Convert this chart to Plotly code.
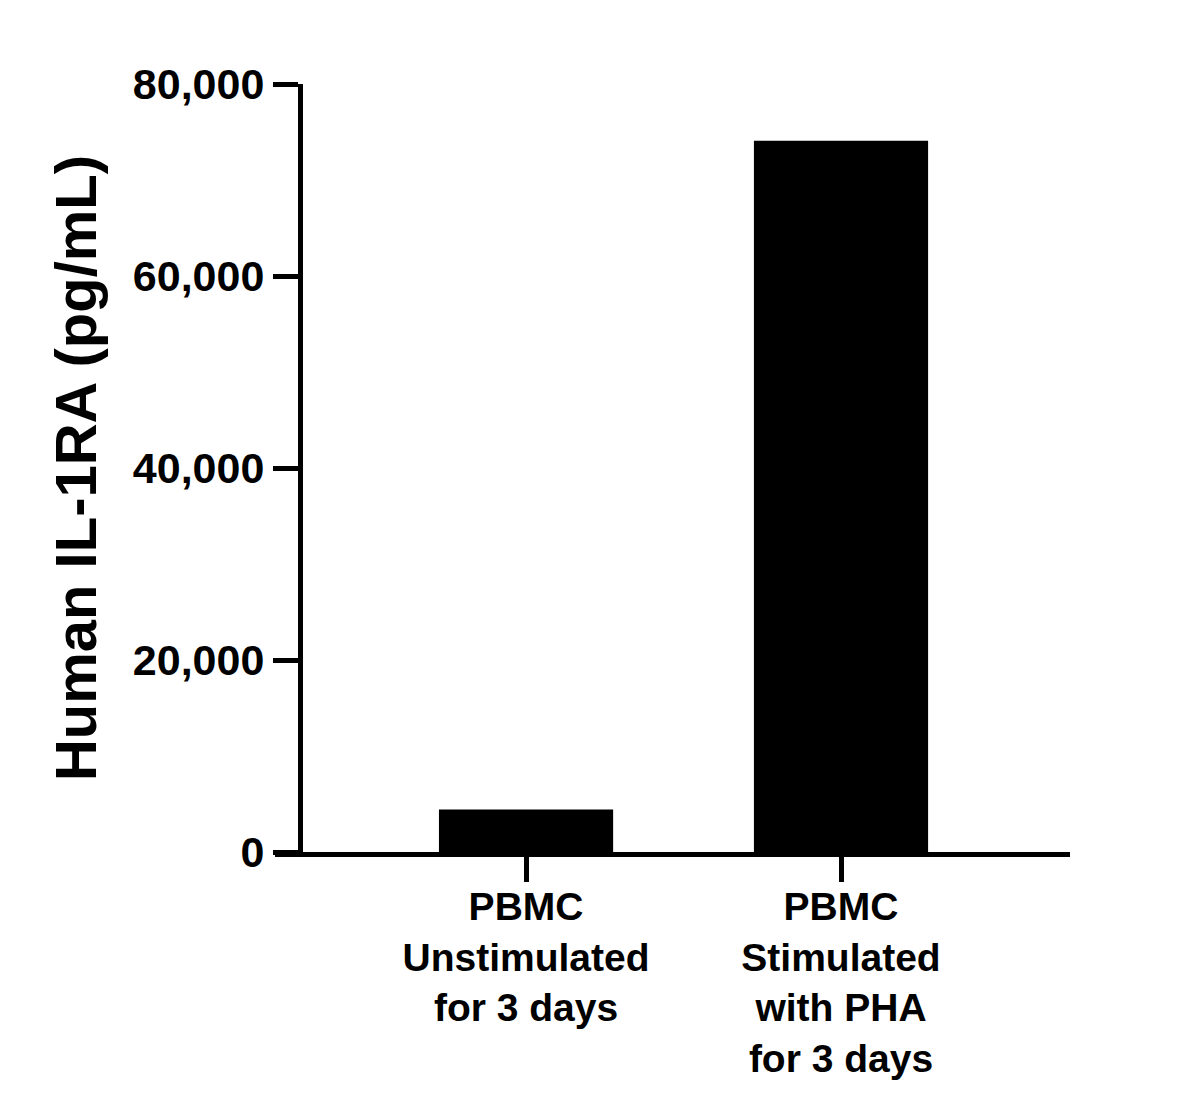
import plotly.graph_objects as go

categories = ["PBMC<br>Unstimulated<br>for 3 days", "PBMC<br>Stimulated<br>with PHA<br>for 3 days"]
values = [4430, 74100]
y_ticks = [0, 20000, 40000, 60000, 80000]
y_tick_labels = ["0", "20,000", "40,000", "60,000", "80,000"]
y_title = "Human IL-1RA (pg/mL)"

FONT = "Liberation Sans, Arial, sans-serif"

fig = go.Figure(go.Bar(
    x=[0, 1], y=values, width=0.553,
    marker=dict(color="black", line=dict(width=0)),
))

fig.update_layout(
    width=1202, height=1110,
    margin=dict(l=275, r=132, t=84, b=258),
    paper_bgcolor="white", plot_bgcolor="white",
    showlegend=False,
    font=dict(family=FONT, color="black"),
)

fig.update_xaxes(
    range=[-0.797, 1.727],
    tickmode="array", tickvals=[0, 1], ticktext=[f"<b>{c}</b>" for c in categories],
    showline=True, linewidth=5, linecolor="black",
    ticks="outside", ticklen=25, tickwidth=5, tickcolor="black",
    showgrid=False, zeroline=False,
    ticklabelstandoff=-9,
    tickfont=dict(size=39, family=FONT, color="black"),
)

fig.update_yaxes(
    range=[0, 80000], anchor="free", position=0.0314,
    tickmode="array", tickvals=y_ticks, ticktext=[f"<b>{t}</b>" for t in y_tick_labels],
    showline=True, linewidth=5, linecolor="black",
    ticks="outside", ticklen=25, tickwidth=5, tickcolor="black",
    showgrid=False, zeroline=False,
    tickfont=dict(size=43, family=FONT, color="black"),
    title=dict(text=f"<b>{y_title}</b>", font=dict(size=58, family=FONT, color="black"), standoff=16),
)

fig.write_html("out.html")
